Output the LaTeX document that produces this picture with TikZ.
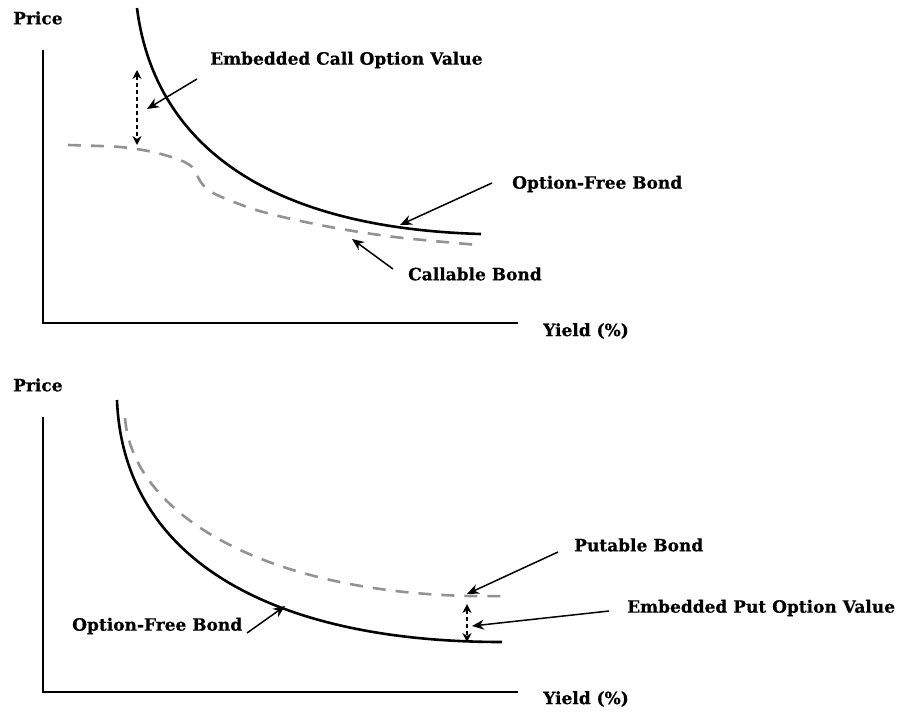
\documentclass[tikz,border=0pt]{standalone}
\usepackage{fontspec}
\setmainfont{DejaVu Serif}
\newfontfamily\lblfont{DejaVu Serif Bold}[FakeBold=0.5]
\usetikzlibrary{arrows.meta}
\tikzset{
  lbl/.style={font=\lblfont\fontsize{17}{19}\selectfont, anchor=west, inner sep=0pt},
  axis/.style={line width=2pt, black},
  freecurve/.style={line width=2.6pt, black},
  optcurve/.style={line width=2.6pt, gray!85, dash pattern=on 13pt off 10pt},
  pointer/.style={line width=1.5pt, -{Stealth[length=12pt,width=10pt]}},
  gap/.style={line width=1.5pt, dash pattern=on 4pt off 3pt, {Stealth[length=9pt,width=9pt]}-{Stealth[length=9pt,width=9pt]}}
}
\begin{document}
\begin{tikzpicture}[x=1pt,y=-1pt]
\useasboundingbox[fill=white] (0,0) rectangle (917,720);
% ---------- top panel ----------
\coordinate (o1) at (43,323);
\coordinate (yt1) at (43,50);
\coordinate (xe1) at (518,323);
\draw[axis] (yt1) -- (o1) -- (xe1);
\node[lbl] (price1) at (13,18) {Price};
\node[lbl] (yield1) at (543,331) {Yield (\%)};
\coordinate (f1s) at (137,8);
\coordinate (f1e) at (481,234);
\draw[freecurve] (f1s) .. controls (151,120) and (235,227) .. (f1e);
\draw[optcurve] plot[smooth, tension=0.5] coordinates {(68,145) (120,147) (153,152) (180,160) (192,167) (198,177) (203,185) (217,195) (253,209) (287,218) (320,225) (353,231) (403,238) (478,245)};
\coordinate (g1t) at (137,70);
\coordinate (g1b) at (137,145);
\draw[gap] (g1t) -- (g1b);
\node[lbl] (ecov) at (210,60) {Embedded Call Option Value};
\coordinate (ecs) at (197,79);
\coordinate (ece) at (147,109);
\draw[pointer] (ecs) -- (ece);
\node[lbl] (ofb1) at (512,184) {Option-Free Bond};
\coordinate (o1s) at (492,183);
\coordinate (o1e) at (400,225);
\draw[pointer] (o1s) -- (o1e);
\node[lbl] (cb) at (408,274) {Callable Bond};
\coordinate (cbs) at (393,269);
\coordinate (cbe) at (352,239);
\draw[pointer] (cbs) -- (cbe);
% ---------- bottom panel ----------
\coordinate (o2) at (43,692);
\coordinate (yt2) at (43,417);
\coordinate (xe2) at (518,692);
\draw[axis] (yt2) -- (o2) -- (xe2);
\node[lbl] (price2) at (13,385) {Price};
\node[lbl] (yield2) at (543,699) {Yield (\%)};
\coordinate (f2s) at (117,400);
\coordinate (f2e) at (502,642);
\draw[freecurve] (f2s) .. controls (123,555) and (265,642) .. (f2e);
\coordinate (p2s) at (125,418);
\coordinate (p2e) at (503,596);
\draw[optcurve] (p2s) .. controls (133,520) and (280,600) .. (p2e);
\coordinate (g2t) at (467,604);
\coordinate (g2b) at (467,642);
\draw[gap] (g2t) -- (g2b);
\node[lbl] (pb) at (574,545) {Putable Bond};
\coordinate (pbs) at (558,552);
\coordinate (pbe) at (467,594);
\draw[pointer] (pbs) -- (pbe);
\node[lbl] (epov) at (627,608) {Embedded Put Option Value};
\coordinate (eps) at (609,611);
\coordinate (epe) at (472,626);
\draw[pointer] (eps) -- (epe);
\node[lbl] (ofb2) at (72,626) {Option-Free Bond};
\coordinate (o2s) at (247,633);
\coordinate (o2e) at (285,606);
\draw[pointer] (o2s) -- (o2e);
\end{tikzpicture}
\end{document}
